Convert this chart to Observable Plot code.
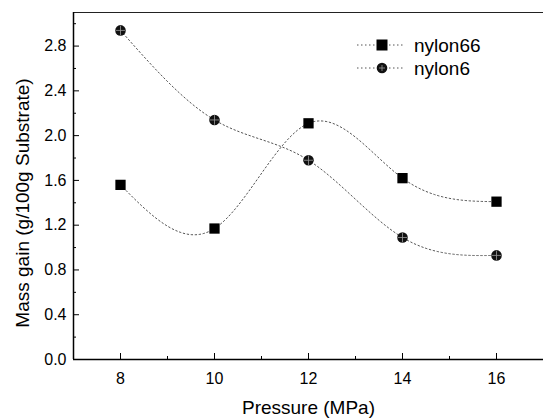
<!DOCTYPE html>
<html><head><meta charset="utf-8">
<script src="https://cdn.jsdelivr.net/npm/d3@7"></script>
<script src="https://cdn.jsdelivr.net/npm/@observablehq/plot@0.6"></script>
<style>
body{margin:0;background:#fff;font-family:"Liberation Sans",Arial,sans-serif}
#wrap{position:relative;width:543px;height:420px;overflow:hidden}
#legend{position:absolute;left:0;top:0}
</style>
</head><body><div id="wrap"></div>
<script>
const pressure = [8, 10, 12, 14, 16];
const nylon66 = [1.56, 1.17, 2.11, 1.62, 1.41];
const nylon6 = [2.94, 2.14, 1.78, 1.09, 0.93];
const seriesNames = ["nylon66", "nylon6"];
const xTicks = [8, 10, 12, 14, 16];
const xMinor = [7, 9, 11, 13, 15, 17];
const yTicks = [0, 0.4, 0.8, 1.2, 1.6, 2.0, 2.4, 2.8];
const yMinor = [0.2, 0.6, 1.0, 1.4, 1.8, 2.2, 2.6, 3.0];
const xDomain = [7, 17];
const yDomain = [0, 3.1];
const xLabel = "Pressure (MPa)";
const yLabel = "Mass gain (g/100g Substrate)";

const rows66 = pressure.map((p, i) => ({p, v: nylon66[i], s: seriesNames[0]}));
const rows6 = pressure.map((p, i) => ({p, v: nylon6[i], s: seriesNames[1]}));

const lineStyle = {stroke: "#555", strokeWidth: 1, strokeDasharray: "1.5,2.5", curve: "natural"};
const font = "Liberation Sans, Arial, sans-serif";

const chart = Plot.plot({
  width: 543, height: 420,
  marginLeft: 73, marginRight: 0, marginTop: 12, marginBottom: 61,
  style: {fontFamily: font, fontSize: "16px", color: "#000", background: "#fff"},
  x: {domain: xDomain},
  y: {domain: yDomain},
  marks: [
    Plot.line(rows66, {x: "p", y: "v", ...lineStyle}),
    Plot.line(rows6, {x: "p", y: "v", ...lineStyle}),
    Plot.ruleY([yDomain[1]], {stroke: "#222", strokeWidth: 1.2}),
    Plot.ruleY([yDomain[0]], {stroke: "#000", strokeWidth: 1.5}),
    Plot.ruleX([xDomain[0]], {stroke: "#000", strokeWidth: 1.5}),
    Plot.axisX({ticks: xTicks, tickSize: 6, dy: -6, text: null, label: null}),
    Plot.axisX({ticks: xMinor, tickSize: 3, dy: -3, text: null, label: null}),
    Plot.axisY({ticks: yTicks, tickSize: 6, dx: 6, text: null, label: null}),
    Plot.axisY({ticks: yMinor, tickSize: 3, dx: 3, text: null, label: null}),
    Plot.axisX({ticks: xTicks, tickSize: 0, tickPadding: 13, fontSize: 16, label: null}),
    Plot.axisY({ticks: yTicks, tickSize: 0, tickPadding: 7, fontSize: 16, tickFormat: d3.format(".1f"), label: null}),
    Plot.text([xLabel], {frameAnchor: "bottom", dy: 48, fontSize: 19, textAnchor: "middle", lineAnchor: "middle"}),
    Plot.text([yLabel], {frameAnchor: "left", rotate: -90, dx: -51, dy: 17, fontSize: 19, textAnchor: "middle", lineAnchor: "middle"}),
    Plot.dot(rows66, {x: "p", y: "v", symbol: "square", r: 5.8, fill: "#000", stroke: "none"}),
    Plot.dot(rows6, {x: "p", y: "v", symbol: "circle", r: 5.3, fill: "#111", stroke: "none"}),
    Plot.dot(rows6, {x: "p", y: "v", symbol: "plus", r: 3.2, stroke: "#9a9a9a", strokeWidth: 0.8})
  ]
});
const wrap = document.getElementById("wrap");
wrap.appendChild(chart);

// legend overlay
const ns = "http://www.w3.org/2000/svg";
const lg = document.createElementNS(ns, "svg");
lg.setAttribute("id", "legend");
lg.setAttribute("width", 543); lg.setAttribute("height", 420);
lg.style.pointerEvents = "none";
const items = [{name: seriesNames[0], y: 45, sym: "square"}, {name: seriesNames[1], y: 68, sym: "circle"}];
for (const it of items) {
  const ln = document.createElementNS(ns, "line");
  ln.setAttribute("x1", 357); ln.setAttribute("x2", 405);
  ln.setAttribute("y1", it.y); ln.setAttribute("y2", it.y);
  ln.setAttribute("stroke", "#555"); ln.setAttribute("stroke-dasharray", "1.5,2.5");
  lg.appendChild(ln);
  if (it.sym === "square") {
    const r = document.createElementNS(ns, "rect");
    r.setAttribute("x", 376.5); r.setAttribute("y", it.y - 5.5);
    r.setAttribute("width", 11); r.setAttribute("height", 11);
    r.setAttribute("fill", "#000");
    lg.appendChild(r);
  } else {
    const c = document.createElementNS(ns, "circle");
    c.setAttribute("cx", 382); c.setAttribute("cy", it.y); c.setAttribute("r", 5.3);
    c.setAttribute("fill", "#111");
    lg.appendChild(c);
    const p = document.createElementNS(ns, "path");
    p.setAttribute("d", `M379,${it.y}h6M382,${it.y-3}v6`);
    p.setAttribute("stroke", "#9a9a9a"); p.setAttribute("stroke-width", 0.8);
    lg.appendChild(p);
  }
  const t = document.createElementNS(ns, "text");
  t.setAttribute("x", 414); t.setAttribute("y", it.y);
  t.setAttribute("dy", "0.35em");
  t.setAttribute("font-family", font); t.setAttribute("font-size", 19);
  t.textContent = it.name;
  lg.appendChild(t);
}
wrap.appendChild(lg);
</script>
</body></html>
